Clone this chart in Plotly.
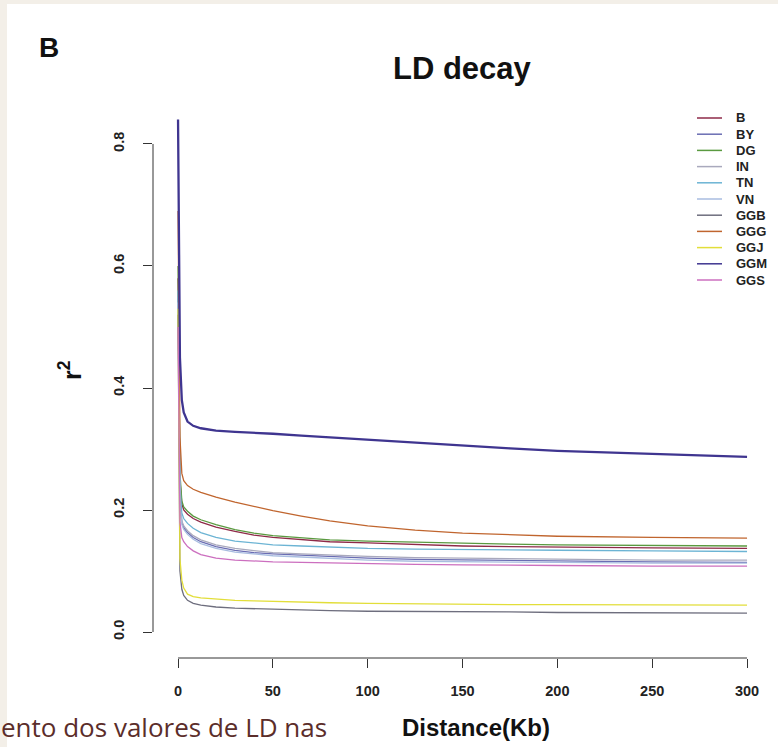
import plotly.graph_objects as go

# ---------------- data ----------------
distance_kb = [0, 0.5, 1, 2, 3, 5, 8, 12, 20, 30, 40, 50, 65, 80, 100, 125, 150, 175, 200, 250, 300]

series_names = ["B", "BY", "DG", "IN", "TN", "VN", "GGB", "GGG", "GGJ", "GGM", "GGS"]

r2_B   = [0.58, 0.34, 0.25, 0.210, 0.200, 0.193, 0.186, 0.180, 0.172, 0.165, 0.159, 0.155, 0.151, 0.148, 0.146, 0.143, 0.141, 0.140, 0.139, 0.138, 0.137]
r2_BY  = [0.55, 0.30, 0.22, 0.180, 0.171, 0.163, 0.155, 0.148, 0.140, 0.134, 0.130, 0.128, 0.126, 0.124, 0.121, 0.119, 0.118, 0.117, 0.116, 0.115, 0.114]
r2_DG  = [0.60, 0.35, 0.26, 0.215, 0.205, 0.198, 0.190, 0.184, 0.176, 0.168, 0.162, 0.158, 0.154, 0.151, 0.149, 0.147, 0.145, 0.144, 0.143, 0.142, 0.141]
r2_IN  = [0.55, 0.30, 0.22, 0.182, 0.174, 0.166, 0.158, 0.151, 0.143, 0.137, 0.133, 0.130, 0.128, 0.126, 0.124, 0.122, 0.121, 0.120, 0.119, 0.118, 0.118]
r2_TN  = [0.56, 0.32, 0.24, 0.195, 0.186, 0.178, 0.170, 0.163, 0.155, 0.149, 0.146, 0.143, 0.141, 0.139, 0.137, 0.136, 0.135, 0.134, 0.134, 0.133, 0.132]
r2_VN  = [0.54, 0.29, 0.21, 0.176, 0.168, 0.160, 0.152, 0.145, 0.137, 0.131, 0.128, 0.125, 0.123, 0.121, 0.118, 0.116, 0.115, 0.114, 0.114, 0.113, 0.113]
r2_GGB = [0.52, 0.20, 0.10, 0.070, 0.060, 0.052, 0.047, 0.044, 0.041, 0.039, 0.038, 0.037, 0.036, 0.035, 0.034, 0.034, 0.033, 0.033, 0.032, 0.031, 0.031]
r2_GGG = [0.69, 0.45, 0.32, 0.260, 0.248, 0.240, 0.234, 0.229, 0.221, 0.213, 0.206, 0.199, 0.190, 0.182, 0.174, 0.167, 0.162, 0.159, 0.157, 0.155, 0.154]
r2_GGJ = [0.53, 0.21, 0.12, 0.085, 0.072, 0.062, 0.058, 0.056, 0.054, 0.052, 0.051, 0.050, 0.049, 0.048, 0.047, 0.046, 0.046, 0.045, 0.045, 0.044, 0.044]
r2_GGM = [0.84, 0.62, 0.45, 0.380, 0.360, 0.345, 0.338, 0.334, 0.330, 0.328, 0.327, 0.325, 0.322, 0.319, 0.315, 0.310, 0.305, 0.301, 0.297, 0.292, 0.287]
r2_GGS = [0.50, 0.25, 0.18, 0.155, 0.148, 0.140, 0.133, 0.127, 0.121, 0.118, 0.116, 0.115, 0.114, 0.113, 0.112, 0.111, 0.110, 0.109, 0.109, 0.108, 0.108]

series_values = [r2_B, r2_BY, r2_DG, r2_IN, r2_TN, r2_VN, r2_GGB, r2_GGG, r2_GGJ, r2_GGM, r2_GGS]

x_ticks = [0, 50, 100, 150, 200, 250, 300]
y_ticks = [0.0, 0.2, 0.4, 0.6, 0.8]
y_tick_text = ["0.0", "0.2", "0.4", "0.6", "0.8"]

# ---------------- styles ----------------
colors = {
    "B": "#8e2a48", "BY": "#6a6db3", "DG": "#5a9a40", "IN": "#a9a9bd",
    "TN": "#6cb4d4", "VN": "#a9bde0", "GGB": "#6e6e7e", "GGG": "#c0652e",
    "GGJ": "#e2de3a", "GGM": "#3f3590", "GGS": "#cc6fbf",
}
widths = {name: 1.3 for name in series_names}
widths["GGM"] = 2.3

W, H = 778, 747
FONT = "Liberation Sans, Arial, sans-serif"

def px(x):
    return x / W

def py(y):
    return 1 - y / H

fig = go.Figure()
for name, vals in zip(series_names, series_values):
    fig.add_trace(go.Scatter(
        x=distance_kb, y=vals, mode="lines", name=name,
        line=dict(color=colors[name], width=widths[name]),
        showlegend=False, hoverinfo="skip",
    ))

x_dom = [px(153), px(770)]
y_dom = [py(658), py(110)]

fig.update_layout(
    width=W, height=H,
    margin=dict(l=0, r=0, t=0, b=0),
    paper_bgcolor="white", plot_bgcolor="white",
    showlegend=False,
    xaxis=dict(
        domain=x_dom, range=[-13.2, 312.1],
        tickvals=x_ticks, ticktext=[f"<b>{v}</b>" for v in x_ticks],
        ticks="outside", ticklen=9, tickwidth=1, tickcolor="#333",
        showline=False, showgrid=False, zeroline=False,
        tickfont=dict(family=FONT, size=14.5, color="#222"),
        ticklabelstandoff=11,
    ),
    yaxis=dict(
        domain=y_dom, range=[-0.0426, 0.8557],
        tickvals=y_ticks, ticktext=[f"<b>{t}</b>" for t in y_tick_text],
        tickangle=-90,
        ticks="outside", ticklen=9, tickwidth=1, tickcolor="#333",
        showline=False, showgrid=False, zeroline=False,
        tickfont=dict(family=FONT, size=14.5, color="#222"),
        ticklabelstandoff=13,
    ),
)

shapes = []
# beige page border strips
shapes.append(dict(type="rect", xref="paper", yref="paper", x0=0, x1=px(7), y0=0, y1=1,
                   fillcolor="#f3efe8", line=dict(width=0), layer="below"))
shapes.append(dict(type="rect", xref="paper", yref="paper", x0=0, x1=1, y0=py(4), y1=1,
                   fillcolor="#f3efe8", line=dict(width=0), layer="below"))
# R-style axis lines spanning the tick range
shapes.append(dict(type="line", xref="x", yref="paper", x0=x_ticks[0], x1=x_ticks[-1],
                   y0=y_dom[0], y1=y_dom[0], line=dict(color="#333", width=1)))
shapes.append(dict(type="line", xref="paper", yref="y", x0=x_dom[0], x1=x_dom[0],
                   y0=y_ticks[0], y1=y_ticks[-1], line=dict(color="#333", width=1)))

annotations = []
# manual legend
leg_top, leg_step = 118, 16.2
for i, name in enumerate(series_names):
    yy = py(leg_top + i * leg_step)
    shapes.append(dict(type="line", xref="paper", yref="paper", x0=px(697), x1=px(722),
                       y0=yy, y1=yy, line=dict(color=colors[name], width=1.5)))
    annotations.append(dict(text=f"<b>{name}</b>", xref="paper", yref="paper",
                            x=px(734), y=yy, xanchor="left", yanchor="middle",
                            showarrow=False, font=dict(family=FONT, size=13, color="#222")))

annotations += [
    dict(text="<b>B</b>", xref="paper", yref="paper", x=px(37), y=py(47),
         xanchor="left", yanchor="middle", showarrow=False,
         font=dict(family=FONT, size=28, color="#111")),
    dict(text="<b>LD decay</b>", xref="paper", yref="paper", x=px(462), y=py(68),
         xanchor="center", yanchor="middle", showarrow=False,
         font=dict(family=FONT, size=31, color="#111")),
    dict(text="<b>Distance(Kb)</b>", xref="paper", yref="paper", x=px(476), y=py(727),
         xanchor="center", yanchor="middle", showarrow=False,
         font=dict(family=FONT, size=24, color="#111")),
    dict(text="<b>r<sup>2</sup></b>", xref="paper", yref="paper", x=px(70), y=py(370),
         xanchor="center", yanchor="middle", textangle=-90, showarrow=False,
         font=dict(family=FONT, size=25, color="#111")),
    dict(text="ento dos valores de LD nas", xref="paper", yref="paper", x=px(329), y=py(727),
         xanchor="right", yanchor="middle", showarrow=False,
         font=dict(family="Open Sans, Lato, sans-serif", size=26, color="#5b2d2a")),
]

fig.update_layout(shapes=shapes, annotations=annotations)
fig.write_html("out.html")
